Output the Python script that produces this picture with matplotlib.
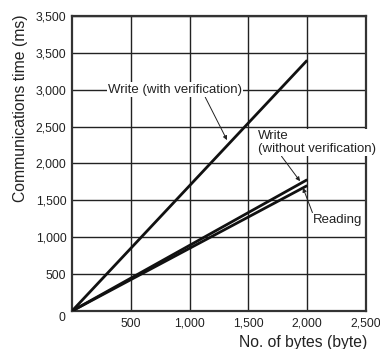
import matplotlib
matplotlib.use("Agg")
import matplotlib.pyplot as plt

plt.rcParams['font.family'] = ['Liberation Sans', 'DejaVu Sans']

# Data (endpoints of straight lines)
bytes_x = [0, 2000]
write_verify = [0, 3400]
write_noverify = [0, 1780]
reading = [0, 1700]

x_ticks = [500, 1000, 1500, 2000, 2500]
x_tick_labels = ['500', '1,000', '1,500', '2,000', '2,500']
y_ticks = [500, 1000, 1500, 2000, 2500, 3000, 3500, 4000]
y_tick_labels = ['500', '1,000', '1,500', '2,000', '2,500', '3,000', '3,500', '3,500']

fig = plt.figure(figsize=(3.8, 3.49), dpi=100)
ax = fig.add_axes([0.1895, 0.1089, 0.7737, 0.8453])
ax.set_xlim(0, 2500)
ax.set_ylim(0, 4000)

ax.set_xticks(x_ticks)
ax.set_xticklabels(x_tick_labels)
ax.set_yticks(y_ticks)
ax.set_yticklabels(y_tick_labels)
ax.tick_params(length=0, labelsize=8.8, colors='#222222', pad=4)
ax.tick_params(axis='x', pad=5)
ax.grid(True, color='#222222', linewidth=1.0)
ax.set_axisbelow(True)
for s in ax.spines.values():
    s.set_color('#333333')
    s.set_linewidth(1.6)

ax.text(-0.034, -0.024, '0', transform=ax.transAxes, ha='center', va='center',
        fontsize=8.8, color='#222222')

ax.plot(bytes_x, write_verify, color='#111111', lw=2.0, solid_capstyle='butt', zorder=3)
ax.plot(bytes_x, write_noverify, color='#111111', lw=2.0, solid_capstyle='butt', zorder=3)
ax.plot(bytes_x, reading, color='#111111', lw=2.0, solid_capstyle='butt', zorder=3)

bbox = dict(facecolor='white', edgecolor='none', pad=1.0)
arrow = dict(arrowstyle='-|>', color='#222222', lw=0.7, mutation_scale=6,
             shrinkA=0, shrinkB=0)

ax.annotate('Write (with verification)', xy=(1318, 2317), xytext=(876, 3000),
            ha='center', va='center', fontsize=9.5, color='#222222', bbox=bbox,
            arrowprops=dict(arrow, relpos=(0.72, 0.0)), zorder=4)
ax.annotate('Write\n(without verification)', xy=(1939, 1760), xytext=(1581, 2285),
            ha='left', va='center', fontsize=9.5, color='#222222', bbox=bbox,
            linespacing=1.05, arrowprops=dict(arrow, relpos=(0.19, 0.0)),
            annotation_clip=False, zorder=4)
ax.annotate('Reading', xy=(1964, 1670), xytext=(2049, 1233),
            ha='left', va='center', fontsize=9.5, color='#222222', bbox=bbox,
            arrowprops=dict(arrow, relpos=(0.0, 1.0)), zorder=4)

fig.text(0.053, 0.69, 'Communications time (ms)', rotation=90, ha='center',
         va='center', fontsize=11.3, color='#222222')
fig.text(0.966, 0.02, 'No. of bytes (byte)', ha='right', va='center',
         fontsize=11.3, color='#222222')

fig.savefig('out.png', dpi=100)
